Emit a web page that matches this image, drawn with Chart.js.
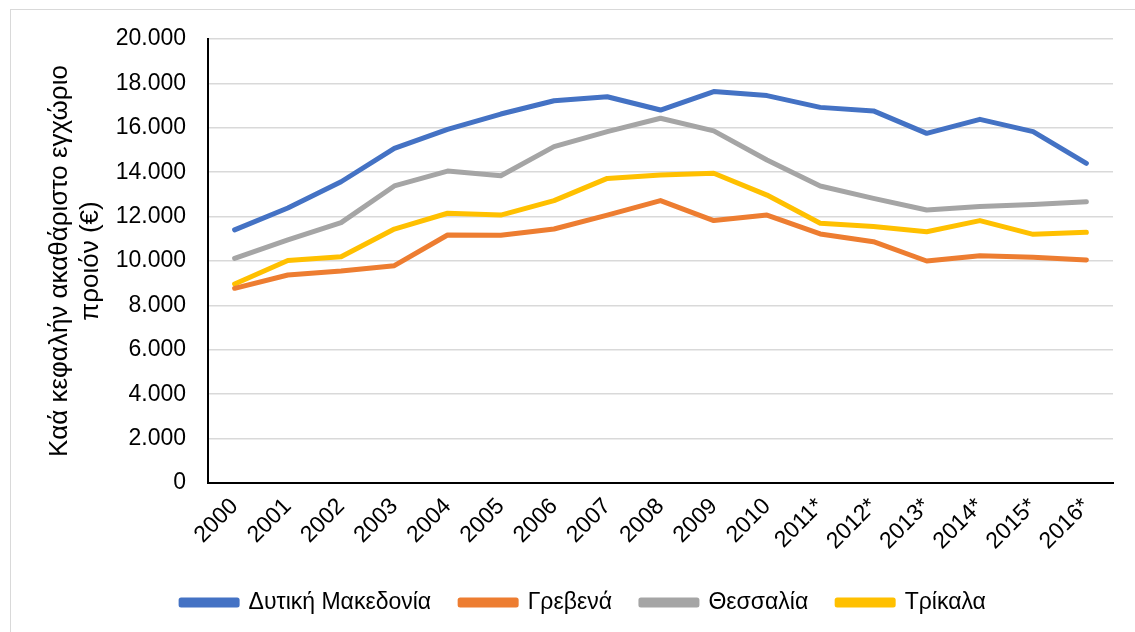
<!DOCTYPE html>
<html>
<head>
<meta charset="utf-8">
<script src="https://cdn.jsdelivr.net/npm/chart.js@4"></script>
<style>
  html, body { margin: 0; padding: 0; background: #fff; }
  #wrap { position: relative; width: 1135px; height: 632px; overflow: hidden; }
  #frame { position: absolute; left: 10px; top: 9px; width: 1200px; height: 700px;
           border-left: 1px solid #d9d9d9; border-top: 1px solid #d9d9d9; }
  canvas { position: absolute; left: 0; top: 0; }
</style>
</head>
<body>
<div id="wrap">
  <div id="frame"></div>
  <canvas id="chart" width="1135" height="632"></canvas>
</div>
<script>
// Έτη (x άξονας)
const years = ['2000', '2001', '2002', '2003', '2004', '2005', '2006', '2007', '2008',
               '2009', '2010', '2011*', '2012*', '2013*', '2014*', '2015*', '2016*'];

// Κατά κεφαλήν ΑΕΠ (€), εκτίμηση από το γράφημα
const dytikiMakedonia = [11400, 12390, 13570, 15070, 15930, 16620, 17220, 17400, 16800,
                         17630, 17450, 16920, 16760, 15750, 16380, 15830, 14400];
const grevena = [8770, 9370, 9550, 9790, 11170, 11160, 11440, 12070, 12720,
                 11820, 12070, 11220, 10870, 10000, 10240, 10170, 10050];
const thessalia = [10120, 10950, 11730, 13380, 14050, 13840, 15150, 15830, 16430,
                   15860, 14550, 13380, 12820, 12300, 12450, 12550, 12670];
const trikala = [8960, 10020, 10190, 11440, 12150, 12070, 12720, 13720, 13870,
                 13950, 12970, 11700, 11550, 11320, 11820, 11200, 11290];

const seriesNames = ['Δυτική Μακεδονία', 'Γρεβενά', 'Θεσσαλία', 'Τρίκαλα'];
const seriesColors = ['#4472C4', '#ED7D31', '#A5A5A5', '#FFC000'];

const FONT = "'Liberation Sans', Arial, sans-serif";

function makeDataset(i, values) {
    return {
        label: seriesNames[i],
        data: values,
        borderColor: seriesColors[i],
        backgroundColor: seriesColors[i],
        borderWidth: 5,
        borderCapStyle: 'round',
        borderJoinStyle: 'round',
        pointRadius: 0,
        tension: 0,
        fill: false
    };
}

// μετακίνηση του υπομνήματος ώστε να είναι κεντραρισμένο όπως στο πρωτότυπο
const legendShift = {
    id: 'legendShift',
    afterLayout(chart) {
        chart.legend.left += 27;
        chart.legend.right += 27;
    }
};

const ctx = document.getElementById('chart').getContext('2d');
new Chart(ctx, {
    type: 'line',
    data: {
        labels: years,
        datasets: [
            makeDataset(0, dytikiMakedonia),
            makeDataset(1, grevena),
            makeDataset(2, thessalia),
            makeDataset(3, trikala)
        ]
    },
    plugins: [legendShift],
    options: {
        responsive: false,
        animation: false,
        layout: { padding: { left: 0, right: 22, top: 39, bottom: 8 } },
        plugins: {
            tooltip: { enabled: false },
            legend: {
                position: 'bottom',
                labels: {
                    boxWidth: 56,
                    boxHeight: 5,
                    padding: 29,
                    color: '#000',
                    font: { family: FONT, size: 23 }
                }
            }
        },
        scales: {
            x: {
                offset: true,
                grid: { display: false, drawTicks: false },
                border: { display: true, color: '#000', width: 2 },
                ticks: {
                    color: '#000',
                    font: { family: FONT, size: 23 },
                    minRotation: 45,
                    maxRotation: 45,
                    padding: 10,
                    autoSkip: false
                },
                afterFit(scale) { scale.height = 79; }
            },
            y: {
                min: 0,
                max: 20000,
                grid: { color: '#d9d9d9', lineWidth: 1.5, drawTicks: false },
                border: { display: true, color: '#000', width: 2 },
                ticks: {
                    stepSize: 2000,
                    color: '#000',
                    padding: 22,
                    font: { family: FONT, size: 23 },
                    callback: v => String(v).replace(/\B(?=(\d{3})+(?!\d))/g, '.')
                },
                title: {
                    display: true,
                    text: ['Καά κεφαλήν ακαθάριστο εγχώριο', 'προιόν (€)'],
                    color: '#000',
                    font: { family: FONT, size: 26 },
                    padding: { top: 44, bottom: 0 }
                },
                afterFit(scale) { scale.width = 208; }
            }
        }
    }
});
</script>
</body>
</html>
